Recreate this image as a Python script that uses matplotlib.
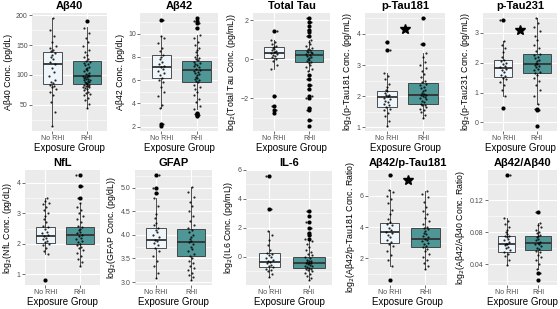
import matplotlib
matplotlib.use("Agg")
import matplotlib.pyplot as plt
from matplotlib.ticker import AutoMinorLocator, FormatStrFormatter

plt.rcParams['font.family'] = ['Liberation Sans', 'DejaVu Sans']

groups = ["No RHI", "RHI"]

# --- values (per marker, per group) ---
# box = [lower whisker, Q1, median, Q3, upper whisker]
ab40_no = [15, 38, 55, 66, 72, 76, 80, 82, 84, 86, 88, 92, 98, 105, 112, 118, 122, 126,
           130, 134, 137, 140, 142, 145, 148, 155, 165, 175, 195]
ab40_rhi = [45, 52, 58, 62, 66, 68, 70, 72, 74, 76, 78, 79, 80, 81, 82, 83, 84, 85, 86, 87,
            88, 89, 90, 91, 92, 93, 94, 95, 96, 97, 98, 99, 100, 102, 104, 106, 108, 110,
            112, 114, 116, 118, 120, 122, 124, 126, 130, 134, 138, 142, 148, 155, 162, 170,
            178, 190]
ab40_box_no = [15, 85, 118, 138, 195]
ab40_box_rhi = [45, 85, 98, 124, 180]

ab42_no = [2.1, 2.2, 3.6, 3.9, 4.6, 5.0, 5.4, 5.8, 6.0, 6.2, 6.4, 6.6, 6.8, 7.0, 7.1, 7.2,
           7.4, 7.6, 7.8, 8.0, 8.2, 8.5, 8.8, 9.2, 9.6, 9.8, 11.2]
ab42_rhi = [2.9, 3.0, 3.1, 3.2, 3.5, 3.8, 4.1, 4.4, 4.7, 5.0, 5.2, 5.4, 5.6, 5.8, 5.9, 6.0,
            6.1, 6.2, 6.3, 6.4, 6.5, 6.6, 6.7, 6.8, 6.9, 7.0, 7.1, 7.2, 7.3, 7.4, 7.5, 7.6,
            7.7, 7.8, 7.9, 8.0, 8.2, 8.4, 8.6, 8.8, 9.0, 9.3, 9.6, 9.9, 10.5, 10.9, 11.1, 11.3]
ab42_box_no = [3.6, 6.17, 7.12, 8.13, 9.8]
ab42_box_rhi = [3.5, 5.88, 6.83, 7.67, 9.9]

tau_no = [-2.75, -2.6, -2.4, -1.9, -0.5, -0.3, -0.1, 0.0, 0.1, 0.15, 0.2, 0.25, 0.3, 0.35,
          0.4, 0.45, 0.5, 0.55, 0.6, 0.65, 0.7, 0.8, 0.9, 1.0, 1.45]
tau_rhi = [-3.4, -3.1, -2.6, -2.5, -2.0, -1.9, -1.5, -1.3, -1.0, -0.8, -0.6, -0.5, -0.4, -0.3,
           -0.2, -0.15, -0.1, -0.05, 0.0, 0.05, 0.1, 0.15, 0.2, 0.25, 0.3, 0.35, 0.4, 0.45,
           0.5, 0.55, 0.6, 0.7, 0.8, 0.9, 1.0, 1.2, 1.4, 1.5, 1.7, 1.9, 2.1]
tau_box_no = [-0.5, 0.09, 0.32, 0.64, 1.0]
tau_box_rhi = [-0.6, -0.12, 0.21, 0.5, 1.0]

pt181_no = [1.05, 1.2, 1.35, 1.45, 1.55, 1.6, 1.65, 1.7, 1.75, 1.8, 1.85, 1.9, 1.95, 2.0,
            2.02, 2.05, 2.1, 2.15, 2.2, 2.3, 2.4, 2.55, 2.65, 2.75, 3.48, 3.75]
pt181_rhi = [1.3, 1.4, 1.5, 1.55, 1.6, 1.65, 1.7, 1.72, 1.75, 1.8, 1.85, 1.9, 1.93, 1.96,
             2.0, 2.02, 2.05, 2.08, 2.1, 2.15, 2.2, 2.25, 2.3, 2.35, 2.4, 2.45, 2.5, 2.6,
             2.7, 2.8, 2.9, 3.0, 3.1, 3.25, 3.4, 3.68, 4.5]
pt181_box_no = [1.05, 1.66, 1.98, 2.15, 2.75]
pt181_box_rhi = [1.3, 1.73, 2.04, 2.41, 3.4]

pt231_no = [0.49, 0.9, 1.1, 1.25, 1.35, 1.45, 1.5, 1.55, 1.6, 1.7, 1.75, 1.8, 1.85, 1.9,
            1.95, 2.0, 2.05, 2.1, 2.2, 2.35, 2.5, 2.6, 2.74, 3.42]
pt231_rhi = [-0.11, 0.4, 0.45, 0.62, 0.9, 1.1, 1.25, 1.4, 1.5, 1.6, 1.65, 1.7, 1.75, 1.8,
             1.85, 1.9, 1.93, 1.96, 2.0, 2.05, 2.1, 2.15, 2.2, 2.25, 2.3, 2.4, 2.5, 2.6,
             2.75, 2.9, 3.05, 3.2, 3.35, 3.49]
pt231_box_no = [0.9, 1.52, 1.83, 2.08, 2.74]
pt231_box_rhi = [0.62, 1.66, 1.97, 2.28, 3.49]

nfl_no = [0.82, 1.65, 1.75, 1.85, 1.95, 2.0, 2.05, 2.1, 2.15, 2.2, 2.25, 2.3, 2.35, 2.4, 2.5,
          2.55, 2.6, 2.7, 2.8, 2.9, 3.0, 3.1, 3.2, 3.3, 3.35, 3.4, 3.5]
nfl_rhi = [1.28, 1.4, 1.5, 1.6, 1.7, 1.8, 1.85, 1.9, 1.95, 2.0, 2.05, 2.1, 2.15, 2.2, 2.25,
           2.3, 2.35, 2.4, 2.45, 2.5, 2.55, 2.6, 2.7, 2.8, 2.9, 3.0, 3.1, 3.2, 3.34, 3.5,
           3.9, 4.25]
nfl_box_no = [1.65, 2.03, 2.25, 2.56, 3.5]
nfl_box_rhi = [1.28, 1.98, 2.29, 2.56, 3.34]

gfap_no = [3.08, 3.2, 3.35, 3.45, 3.55, 3.65, 3.72, 3.78, 3.82, 3.86, 3.9, 3.95, 4.0, 4.05,
           4.1, 4.15, 4.2, 4.25, 4.35, 4.45, 4.6, 4.78, 4.88, 5.0, 5.26]
gfap_rhi = [3.05, 3.1, 3.15, 3.2, 3.25, 3.3, 3.35, 3.4, 3.45, 3.5, 3.55, 3.6, 3.65, 3.7,
            3.75, 3.8, 3.84, 3.88, 3.92, 3.96, 4.0, 4.05, 4.1, 4.15, 4.2, 4.3, 4.4, 4.5,
            4.6, 4.7, 4.8, 4.9, 5.02]
gfap_box_no = [3.08, 3.73, 3.9, 4.15, 4.78]
gfap_box_rhi = [3.05, 3.55, 3.84, 4.13, 5.02]

il6_no = [-1.4, -1.2, -1.0, -0.9, -0.8, -0.72, -0.65, -0.55, -0.45, -0.35, -0.3, -0.2, -0.1,
          0.0, 0.1, 0.2, 0.3, 0.5, 0.8, 1.2, 1.5, 1.76, 3.34, 5.6]
il6_rhi = [-1.58, -1.45, -1.3, -1.2, -1.1, -1.0, -0.9, -0.85, -0.8, -0.75, -0.7, -0.65, -0.6,
           -0.55, -0.5, -0.45, -0.43, -0.4, -0.35, -0.3, -0.25, -0.2, -0.1, 0.0, 0.1, 0.2,
           0.35, 0.5, 0.7, 0.9, 1.1, 1.25, 1.5, 1.65, 2.0, 2.4, 2.8, 3.15]
il6_box_no = [-1.4, -0.72, -0.34, 0.29, 1.76]
il6_box_rhi = [-1.58, -0.77, -0.43, 0.0, 1.1]

ratio181_no = [0.64, 1.54, 1.9, 2.2, 2.5, 2.8, 2.95, 3.05, 3.2, 3.35, 3.5, 3.6, 3.7, 3.8,
               3.95, 4.1, 4.2, 4.3, 4.5, 4.8, 5.1, 5.5, 5.8, 6.0, 6.2, 6.38, 7.3]
ratio181_rhi = [1.33, 1.5, 1.7, 1.9, 2.1, 2.3, 2.5, 2.6, 2.7, 2.8, 2.9, 3.0, 3.1, 3.2, 3.26,
                3.35, 3.45, 3.55, 3.65, 3.75, 3.85, 3.92, 4.0, 4.2, 4.4, 4.6, 4.8, 5.0, 5.3,
                5.6, 5.9, 6.1, 6.27]
ratio181_box_no = [1.54, 3.01, 3.66, 4.25, 6.38]
ratio181_box_rhi = [1.33, 2.7, 3.26, 3.92, 6.27]

ratio40_no = [0.039, 0.045, 0.05, 0.053, 0.056, 0.058, 0.06, 0.062, 0.064, 0.065, 0.066,
              0.068, 0.07, 0.072, 0.074, 0.075, 0.076, 0.078, 0.08, 0.083, 0.086, 0.09,
              0.094, 0.0975, 0.151]
ratio40_rhi = [0.021, 0.029, 0.035, 0.04, 0.045, 0.049, 0.052, 0.055, 0.057, 0.059, 0.061,
               0.063, 0.065, 0.066, 0.067, 0.068, 0.07, 0.072, 0.074, 0.075, 0.077, 0.079,
               0.081, 0.083, 0.086, 0.089, 0.092, 0.1057]
ratio40_box_no = [0.039, 0.0555, 0.0649, 0.0751, 0.0975]
ratio40_box_rhi = [0.035, 0.0575, 0.0669, 0.0751, 0.092]

titles = ["Aβ40", "Aβ42", "Total Tau", "p-Tau181", "p-Tau231",
          "NfL", "GFAP", "IL-6", "Aβ42/p-Tau181", "Aβ42/Aβ40"]
ylabels = ["Aβ40 Conc. (pg/dL)", "Aβ42 Conc. (pg/dL)",
           "log$_2$(Total Tau Conc. (pg/mL))", "log$_2$(p-Tau181 Conc. (pg/mL))",
           "log$_2$(p-Tau231 Conc. (pg/mL))", "log$_2$(NfL Conc. (pg/dL))",
           "log$_2$(GFAP Conc. (pg/dL))", "log$_2$(IL6 Conc. (pg/mL))",
           "log$_2$(Aβ42/p-Tau181 Conc. Ratio)", "log$_2$(Aβ42/Aβ40 Conc. Ratio)"]
yticks = [[50, 100, 150, 200], [2, 4, 6, 8, 10], [-2, 0, 2], [1, 2, 3, 4], [0, 1, 2, 3],
          [1, 2, 3, 4], [3.0, 3.5, 4.0, 4.5, 5.0], [0, 2, 4, 6], [2, 4, 6], [0.04, 0.08, 0.12]]
# significance stars (panel title -> height)
stars = {"p-Tau181": 4.16, "p-Tau231": 3.11, "Aβ42/p-Tau181": 6.97}

points = [(ab40_no, ab40_rhi), (ab42_no, ab42_rhi), (tau_no, tau_rhi),
          (pt181_no, pt181_rhi), (pt231_no, pt231_rhi), (nfl_no, nfl_rhi),
          (gfap_no, gfap_rhi), (il6_no, il6_rhi), (ratio181_no, ratio181_rhi),
          (ratio40_no, ratio40_rhi)]
boxes = [(ab40_box_no, ab40_box_rhi), (ab42_box_no, ab42_box_rhi), (tau_box_no, tau_box_rhi),
         (pt181_box_no, pt181_box_rhi), (pt231_box_no, pt231_box_rhi),
         (nfl_box_no, nfl_box_rhi), (gfap_box_no, gfap_box_rhi), (il6_box_no, il6_box_rhi),
         (ratio181_box_no, ratio181_box_rhi), (ratio40_box_no, ratio40_box_rhi)]

# panel pixel extents (left, right) for each row, rows (top, bottom)
W, H = 560, 309
lefts = [32, 140, 253, 365, 483, 25, 135, 246, 368, 488]
rights = [107, 218, 330, 445, 557, 100, 212, 332, 447, 557]
rows = [(13, 131), (170, 285)]

fills = ["#EEF6FB", "#4F9696"]
widths = [0.55, 0.82]
edge = "#333333"
jit = [0.0, 0.06, -0.05, 0.03, -0.08, 0.09, -0.02, 0.05, -0.07, 0.02, -0.04, 0.08,
       -0.09, 0.04, -0.01, 0.07, -0.06, 0.01, -0.03]

fig = plt.figure(figsize=(W / 100, H / 100), dpi=100)

for i in range(10):
    top, bot = rows[i // 5]
    ax = fig.add_axes([lefts[i] / W, 1 - bot / H, (rights[i] - lefts[i]) / W, (bot - top) / H])
    ax.set_facecolor("#EBEBEB")
    for s in ax.spines.values():
        s.set_visible(False)

    stats = []
    for g in range(2):
        lo, q1, med, q3, hi = boxes[i][g]
        stats.append(dict(whislo=lo, q1=q1, med=med, q3=q3, whishi=hi, fliers=[]))
    bp = ax.bxp(stats, positions=[1, 2], widths=widths, patch_artist=True,
                showfliers=False, showcaps=False,
                boxprops=dict(edgecolor=edge, linewidth=0.6),
                whiskerprops=dict(color=edge, linewidth=0.6),
                medianprops=dict(color=edge, linewidth=1.3), zorder=2)
    for patch, c in zip(bp["boxes"], fills):
        patch.set_facecolor(c)

    allv = []
    for g in range(2):
        vals = points[i][g]
        allv += vals
        lo, hi = boxes[i][g][0], boxes[i][g][4]
        out = [v for v in vals if v < lo or v > hi]
        ax.scatter([g + 1] * len(out), out, s=9, color="black", zorder=3, linewidths=0)
        xs = [g + 1 + jit[k % len(jit)] for k in range(len(vals))]
        ax.scatter(xs, vals, s=2.4, color="black", alpha=0.85, zorder=4, linewidths=0)

    if titles[i] in stars:
        ax.plot(1.5, stars[titles[i]], marker="*", ms=7.5, color="black", zorder=5)

    rng = max(allv) - min(allv)
    ax.set_ylim(min(allv) - 0.05 * rng, max(allv) + 0.05 * rng)
    ax.set_xlim(0.4, 2.6)
    ax.set_xticks([1, 2])
    ax.set_xticklabels(groups)
    ax.set_yticks(yticks[i])
    if titles[i] == "GFAP":
        ax.yaxis.set_major_formatter(FormatStrFormatter("%.1f"))
    ax.yaxis.set_minor_locator(AutoMinorLocator(2))
    ax.grid(True, which="major", color="white", linewidth=0.8, zorder=0)
    ax.grid(True, which="minor", axis="y", color="white", linewidth=0.4, zorder=0)
    ax.set_axisbelow(True)
    ax.tick_params(which="major", length=2, width=0.5, color=edge, labelsize=5,
                   labelcolor="#4D4D4D", pad=1)
    ax.tick_params(which="minor", length=0)
    ax.set_title(titles[i], fontsize=8, fontweight="bold", pad=3)
    ax.set_ylabel(ylabels[i], fontsize=6.3, labelpad=2)
    ax.set_xlabel("Exposure Group", fontsize=7, labelpad=0.5)

fig.savefig("out.png", dpi=100)
